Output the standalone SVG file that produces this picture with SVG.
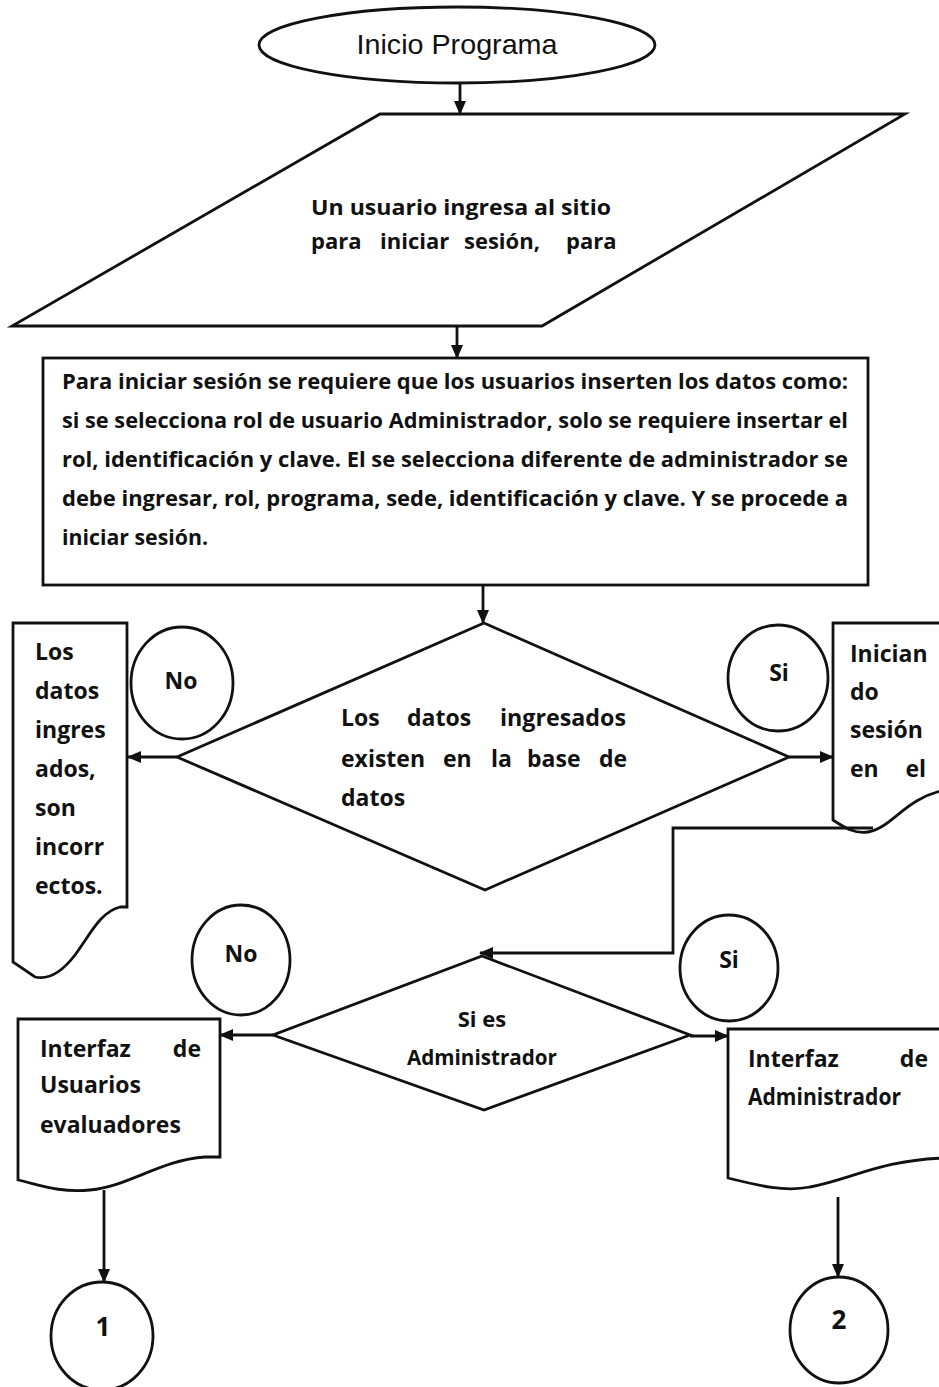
<svg xmlns="http://www.w3.org/2000/svg" width="939" height="1387" viewBox="0 0 939 1387">
<style>
.s{fill:#fff;stroke:#111;stroke-width:2.8;stroke-linejoin:miter}
.c{fill:none;stroke:#111;stroke-width:2.8}
.t{font-family:"Open Sans","Noto Sans",sans-serif;font-size:22px;fill:#111;font-weight:700}
.b{font-size:23px}
.n{font-size:26px}
.m{text-anchor:middle}
.e{text-anchor:end}
.h{font-family:"Liberation Sans",Arial,sans-serif;font-size:28px;fill:#111}
</style>
<defs>
<marker id="a" markerWidth="14" markerHeight="12" refX="13" refY="6" orient="auto" markerUnits="userSpaceOnUse"><path d="M0,0 L14,6 L0,12 z" fill="#111"/></marker>
</defs>
<rect width="939" height="1387" fill="#fff"/>

<g id="inicio">
<ellipse class="s" cx="457" cy="45" rx="198" ry="38"/>
<text class="h m" x="457" y="54" textLength="201" lengthAdjust="spacingAndGlyphs">Inicio Programa</text>
</g>

<g id="entrada">
<polygon class="s" points="380,114 905,114 542,326 12,326"/>
<text class="t" x="311" y="215" textLength="300" lengthAdjust="spacingAndGlyphs">Un usuario ingresa al sitio</text>
<text class="t" y="249"><tspan x="311">para</tspan><tspan x="380">iniciar</tspan><tspan x="464">sesión,</tspan><tspan x="566">para</tspan></text>
</g>

<g id="proceso">
<rect class="s" x="43" y="358" width="825" height="227"/>
<text class="t" x="62" y="389" textLength="786" lengthAdjust="spacingAndGlyphs">Para iniciar sesión se requiere que los usuarios inserten los datos como:</text>
<text class="t" x="62" y="428" textLength="786" lengthAdjust="spacingAndGlyphs">si se selecciona rol de usuario Administrador, solo se requiere insertar el</text>
<text class="t" x="62" y="467" textLength="786" lengthAdjust="spacingAndGlyphs">rol, identificación y clave. El se selecciona diferente de administrador se</text>
<text class="t" x="62" y="506" textLength="786" lengthAdjust="spacingAndGlyphs">debe ingresar, rol, programa, sede, identificación y clave. Y se procede a</text>
<text class="t" x="62" y="545" textLength="146" lengthAdjust="spacingAndGlyphs">iniciar sesión.</text>
</g>

<g id="decision1">
<polygon class="s" points="484,623 789,757 485,890 177,757"/>
<text class="t b" y="726"><tspan x="341">Los</tspan><tspan x="407">datos</tspan><tspan x="500" textLength="126" lengthAdjust="spacingAndGlyphs">ingresados</tspan></text>
<text class="t b" y="767"><tspan x="341">existen</tspan><tspan x="443">en</tspan><tspan x="491">la</tspan><tspan x="527">base</tspan><tspan x="599">de</tspan></text>
<text class="t b" x="341" y="806">datos</text>
</g>

<g id="no1">
<ellipse class="s" cx="182" cy="683" rx="51" ry="56"/>
<text class="t b m" x="181" y="689">No</text>
</g>

<g id="si1">
<ellipse class="s" cx="778" cy="678" rx="50" ry="53"/>
<text class="t b m" x="779" y="681">Si</text>
</g>

<g id="incorrectos">
<path class="s" d="M13,623 H127 V907 H120 C100,912 90,935 75,955 C62,972 48,980 35,977 L13,962 Z"/>
<text class="t b"><tspan x="35" y="660">Los</tspan><tspan x="35" y="699">datos</tspan><tspan x="35" y="738">ingres</tspan><tspan x="35" y="777">ados,</tspan><tspan x="35" y="816">son</tspan><tspan x="35" y="855">incorr</tspan><tspan x="35" y="894">ectos.</tspan></text>
</g>

<g id="iniciando">
<path class="s" d="M945,623 H833 V820 C845,828 855,834 868,832 C892,828 905,798 945,790 Z"/>
<text class="t b"><tspan x="850" y="662">Inician</tspan><tspan x="850" y="700">do</tspan><tspan x="850" y="738">sesión</tspan><tspan x="850" y="777">en</tspan></text>
<text class="t b e" x="926" y="777">el</text>
</g>

<g id="decision2">
<polygon class="s" points="482,956 690,1035 484,1110 273,1035"/>
<text class="t m" x="482" y="1027">Si es</text>
<text class="t m" x="482" y="1065" textLength="150" lengthAdjust="spacingAndGlyphs">Administrador</text>
</g>

<g id="no2">
<ellipse class="s" cx="241" cy="960" rx="49" ry="55"/>
<text class="t b m" x="241" y="962">No</text>
</g>

<g id="si2">
<ellipse class="s" cx="729" cy="968" rx="49" ry="53"/>
<text class="t b m" x="729" y="968">Si</text>
</g>

<g id="interfaz_usuarios">
<path class="s" d="M18,1019 H220 V1157 H205 C160,1160 130,1186 90,1190 C60,1193 40,1185 18,1180 Z"/>
<text class="t b" x="40" y="1057">Interfaz</text>
<text class="t b e" x="201" y="1057">de</text>
<text class="t b" x="40" y="1093">Usuarios</text>
<text class="t b" x="40" y="1133">evaluadores</text>
</g>

<g id="interfaz_admin">
<path class="s" d="M945,1029 H728 V1178 C760,1186 785,1192 810,1187 C850,1180 880,1160 945,1158 Z"/>
<text class="t b" x="748" y="1067">Interfaz</text>
<text class="t b e" x="928" y="1067">de</text>
<text class="t b" x="748" y="1105" textLength="153" lengthAdjust="spacingAndGlyphs">Administrador</text>
</g>

<g id="c1">
<ellipse class="s" cx="102" cy="1336" rx="51" ry="54"/>
<text class="t n m" x="103" y="1336">1</text>
</g>

<g id="c2">
<ellipse class="s" cx="839" cy="1330" rx="49" ry="53"/>
<text class="t n m" x="839" y="1329">2</text>
</g>

<g id="connectors">
<path class="c" d="M460,83 V114" marker-end="url(#a)"/>
<path class="c" d="M457,326 V358" marker-end="url(#a)"/>
<path class="c" d="M483,585 V623" marker-end="url(#a)"/>
<path class="c" d="M177,757 H128" marker-end="url(#a)"/>
<path class="c" d="M789,757 H833" marker-end="url(#a)"/>
<path class="c" d="M873,828 H673 V953 H480" marker-end="url(#a)"/>
<path class="c" d="M273,1035 H220" marker-end="url(#a)"/>
<path class="c" d="M690,1036 H728" marker-end="url(#a)"/>
<path class="c" d="M104,1190 V1282" marker-end="url(#a)"/>
<path class="c" d="M838,1197 V1277" marker-end="url(#a)"/>
</g>
</svg>
